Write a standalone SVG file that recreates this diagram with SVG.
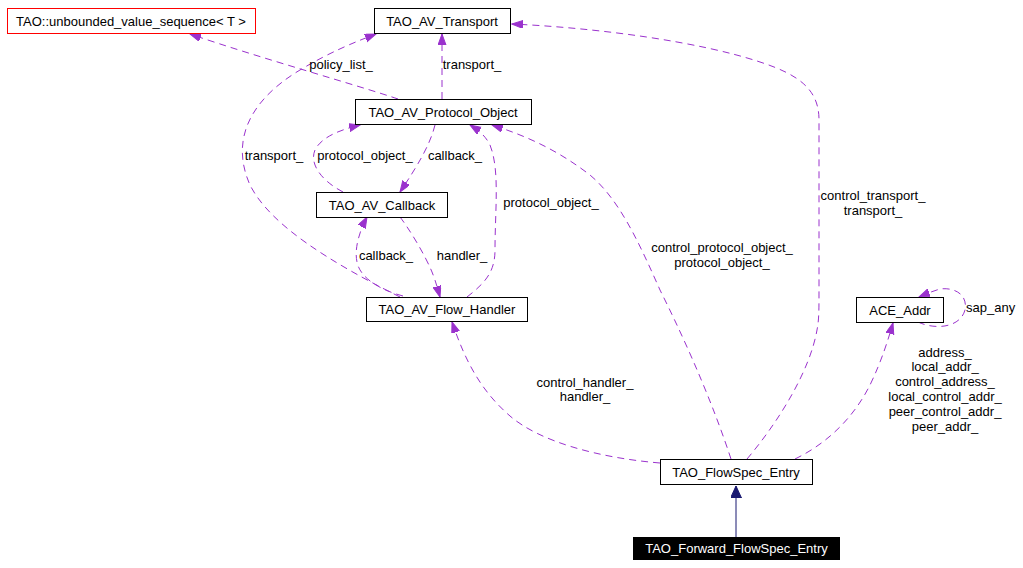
<svg xmlns="http://www.w3.org/2000/svg" width="1023" height="568" viewBox="0 0 1023 568">
<style>
text{font-family:"Liberation Sans",Arial,sans-serif;font-size:13px;fill:#000}
.n text{text-anchor:middle}
.box{fill:#fff;stroke:#000;stroke-width:1}
.e{fill:none;stroke:#9a32cd;stroke-width:1;stroke-dasharray:7,5;marker-end:url(#ah)}
.lbl{text-anchor:middle}
</style>
<defs>
<marker id="ah" markerUnits="userSpaceOnUse" markerWidth="12" markerHeight="10" refX="11" refY="4" orient="auto">
<path d="M0,0 L11,4 L0,8 z" fill="#9a32cd" stroke="#9a32cd" stroke-width="1"/>
</marker>
<marker id="inh" markerUnits="userSpaceOnUse" markerWidth="14" markerHeight="13" refX="12" refY="5.5" orient="auto">
<path d="M0,0 L12,5.5 L0,11 z" fill="#191970" stroke="#191970" stroke-width="1"/>
</marker>
</defs>
<rect width="1023" height="568" fill="#fff"/>
<g id="connectors">
<path class="e" d="M398,99 C360,86 260,58 190,34"/>
<path class="e" d="M442,99 L442,34"/>
<path class="e" d="M400,297 C330,262 270,225 250,185 C230,140 250,100 300,70 C330,52 355,42 376,34"/>
<path class="e" d="M343,192 C320,180 308,162 316,148 C324,136 340,130 360,125"/>
<path class="e" d="M435,125 C430,145 418,165 400,192"/>
<path class="e" d="M467,297 C485,283 495,272 495,250 C495,210 500,170 490,145 C485,135 478,130 470,125"/>
<path class="e" d="M403,296 C380,290 360,278 357,262 C354,248 360,230 367,217"/>
<path class="e" d="M400,217 C410,230 425,255 432,272 C436,282 438,290 440,297"/>
<path class="e" d="M660,463 C600,458 540,442 510,416 C480,390 465,360 452,322"/>
<path class="e" d="M731,459 C715,410 690,350 660,290 C640,245 620,200 590,175 C560,152 530,137 492,125"/>
<path class="e" d="M747,459 C780,420 810,370 817,330 C819,320 819,310 819,290 L819,120 C819,90 800,75 760,62 C700,42 600,28 512,24"/>
<path class="e" d="M795,459 C830,442 855,415 870,385 C882,360 888,340 893,323"/>
<path class="e" d="M918,322 C935,330 960,328 965,310 C968,295 955,287 940,289 C933,291 926,294 919,297"/>
<path d="M736,537 L736,486" fill="none" stroke="#191970" stroke-width="1" marker-end="url(#inh)"/>
<text x="341" y="69" class="lbl">policy_list_</text>
<text x="472" y="69" class="lbl">transport_</text>
<text x="274" y="160" class="lbl">transport_</text>
<text x="365" y="160" class="lbl">protocol_object_</text>
<text x="455" y="160" class="lbl">callback_</text>
<text x="551" y="207" class="lbl">protocol_object_</text>
<text x="386" y="260" class="lbl">callback_</text>
<text x="462" y="260" class="lbl">handler_</text>
<text x="585" y="387" class="lbl">control_handler_</text>
<text x="585" y="401" class="lbl">handler_</text>
<text x="722" y="252" class="lbl">control_protocol_object_</text>
<text x="722" y="267" class="lbl">protocol_object_</text>
<text x="873" y="200" class="lbl">control_transport_</text>
<text x="873" y="215" class="lbl">transport_</text>
<text x="945" y="357" class="lbl">address_</text>
<text x="945" y="371" class="lbl">local_addr_</text>
<text x="945" y="386" class="lbl">control_address_</text>
<text x="945" y="401" class="lbl">local_control_addr_</text>
<text x="945" y="416" class="lbl">peer_control_addr_</text>
<text x="945" y="431" class="lbl">peer_addr_</text>
<text x="966" y="312">sap_any</text>
</g>
<g id="n_unbounded" class="n"><rect x="7.5" y="8.5" width="248" height="25" fill="#fff" stroke="#ff0000"/><text x="131" y="25.5">TAO::unbounded_value_sequence&lt; T &gt;</text></g>
<g id="n_transport" class="n"><rect class="box" x="374.5" y="8.5" width="136" height="25"/><text x="442" y="25.5">TAO_AV_Transport</text></g>
<g id="n_protocol" class="n"><rect class="box" x="355.5" y="99.5" width="176" height="25"/><text x="443" y="116.5">TAO_AV_Protocol_Object</text></g>
<g id="n_callback" class="n"><rect class="box" x="316.5" y="192.5" width="131" height="25"/><text x="382" y="209.5">TAO_AV_Callback</text></g>
<g id="n_flowhandler" class="n"><rect class="box" x="366.5" y="297.5" width="161" height="24"/><text x="447" y="314">TAO_AV_Flow_Handler</text></g>
<g id="n_aceaddr" class="n"><rect class="box" x="856.5" y="297.5" width="87" height="25"/><text x="900" y="314.5">ACE_Addr</text></g>
<g id="n_flowspec" class="n"><rect class="box" x="660.5" y="459.5" width="152" height="25"/><text x="736" y="476.5">TAO_FlowSpec_Entry</text></g>
<g id="n_forward" class="n"><rect x="633" y="537" width="207" height="23" fill="#000"/><text x="736.5" y="553" style="fill:#fff">TAO_Forward_FlowSpec_Entry</text></g>
</svg>
